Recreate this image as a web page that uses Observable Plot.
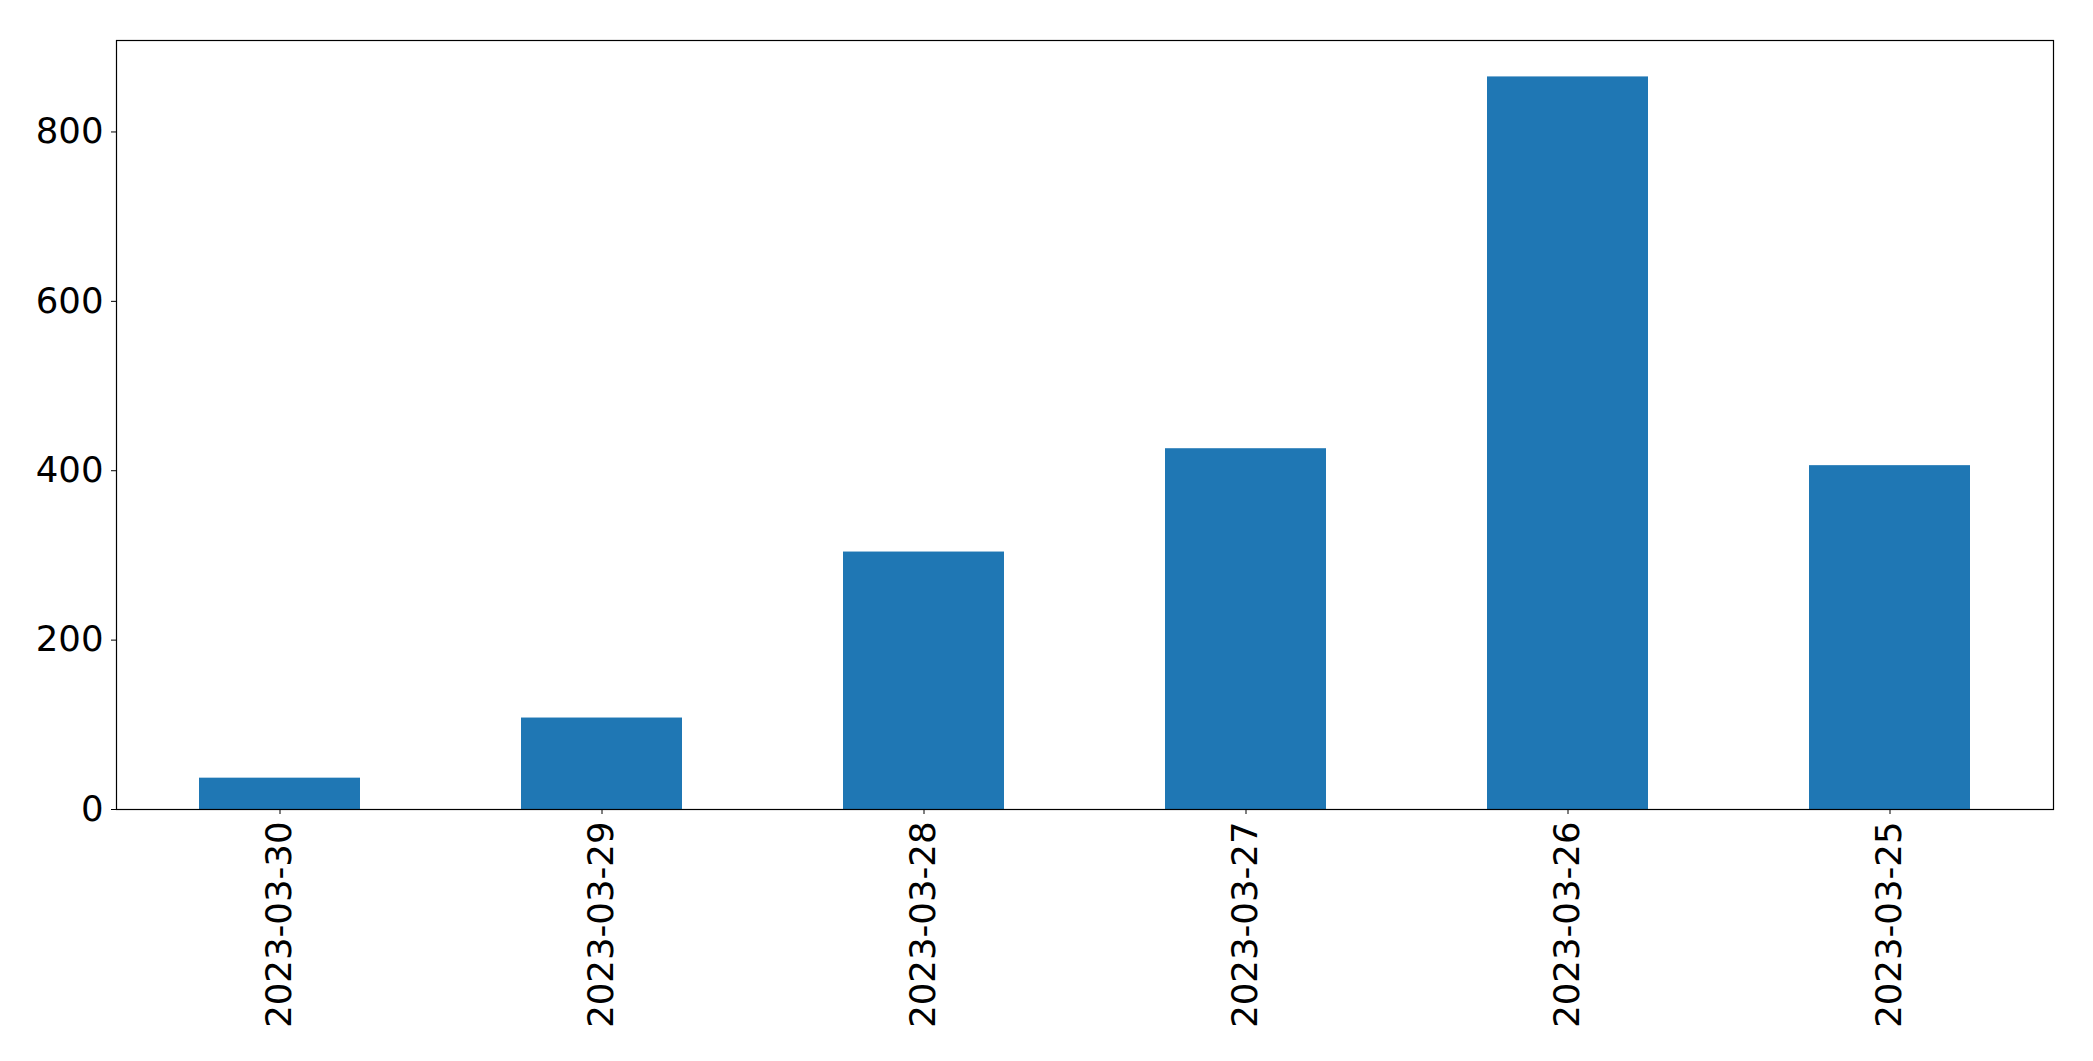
<!DOCTYPE html>
<html>
<head>
<meta charset="utf-8">
<script src="https://cdn.jsdelivr.net/npm/d3@7"></script>
<script src="https://cdn.jsdelivr.net/npm/@observablehq/plot@0.6"></script>
<style>
  html, body { margin: 0; padding: 0; background: #fff; }
  #chart svg { display: block; }
</style>
</head>
<body>
<div id="chart"></div>
<script>
const dates = ["2023-03-30", "2023-03-29", "2023-03-28", "2023-03-27", "2023-03-26", "2023-03-25"];
const counts = [37, 108, 304, 426, 865, 406];
const yTicks = [0, 200, 400, 600, 800];

const data = dates.map((d, i) => ({date: d, count: counts[i]}));

const chart = Plot.plot({
  width: 2093,
  height: 1061,
  marginLeft: 116,
  marginRight: 40,
  marginTop: 40,
  marginBottom: 252,
  style: {fontFamily: "DejaVu Sans", fontSize: "35.5px", color: "#000", background: "#fff"},
  x: {type: "band", domain: dates, paddingInner: 0.5, paddingOuter: 0.25, label: null},
  y: {domain: [0, 908], label: null},
  marks: [
    Plot.barY(data, {x: "date", y: "count", fill: "#1f77b4"}),
    Plot.axisY({ticks: yTicks, tickSize: 5, tickPadding: 8, label: null, fontSize: 35.5}),
    Plot.axisX({tickRotate: -90, tickSize: 5, tickPadding: 7, label: null, fontSize: 35.5}),
    Plot.frame({stroke: "#000", strokeWidth: 1.2})
  ]
});
document.getElementById("chart").appendChild(chart);
</script>
</body>
</html>
